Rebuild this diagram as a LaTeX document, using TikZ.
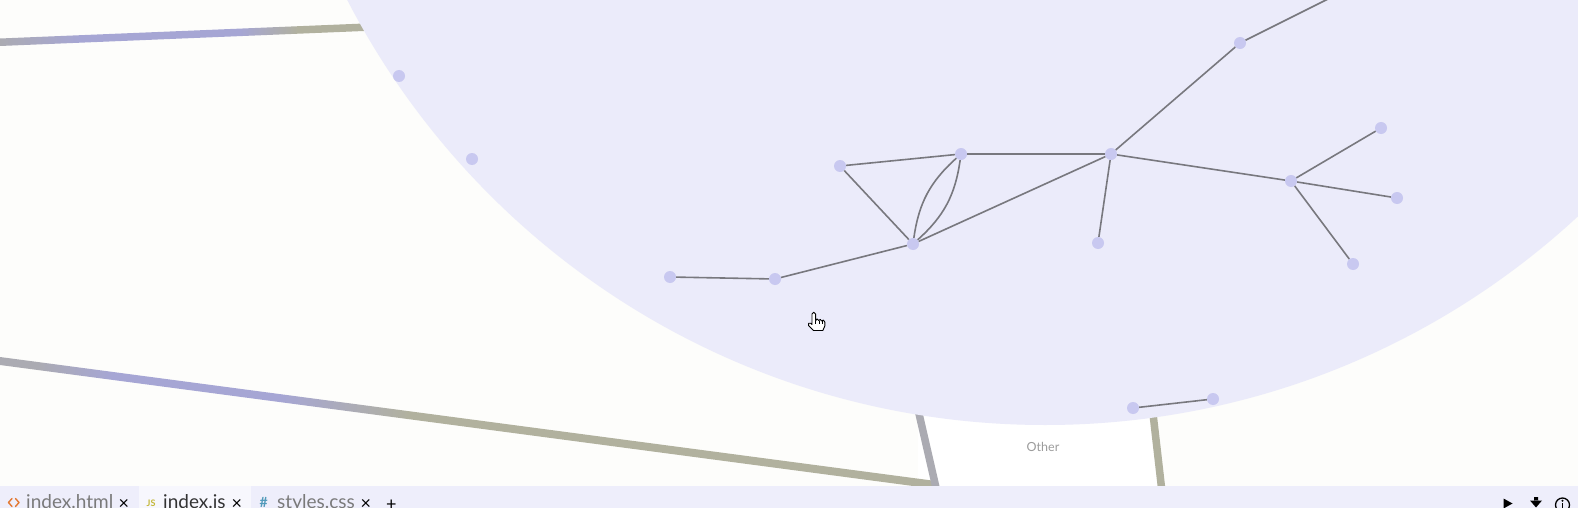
\documentclass[tikz,border=0pt]{standalone}
\usepackage{fontspec}
\setmainfont{Lato}
\definecolor{bg}{HTML}{FDFDFB}
\definecolor{circfill}{HTML}{EBEBFA}
\definecolor{nodefill}{HTML}{C8C8F0}
\definecolor{edgecol}{HTML}{78787E}
\definecolor{tabbg}{HTML}{EEEEFB}
\definecolor{tabact}{HTML}{F7F7FD}
\definecolor{lgA}{HTML}{ABABB2}
\definecolor{lgB}{HTML}{A6A6D4}
\definecolor{lgC}{HTML}{B1B19E}
\definecolor{txtgrey}{HTML}{7A7A7A}
\definecolor{txtdark}{HTML}{333333}
\definecolor{htmlorange}{HTML}{E37933}
\definecolor{jsolive}{HTML}{C4B83A}
\definecolor{cssblue}{HTML}{519ABA}
\definecolor{othergrey}{HTML}{9C9C9C}
\pgfdeclarehorizontalshading{upline}{100bp}{color(0bp)=(lgA); color(25bp)=(lgA); color(36bp)=(lgB); color(58bp)=(lgB); color(66bp)=(lgC); color(100bp)=(lgC)}
\pgfdeclarehorizontalshading{lowline}{100bp}{color(0bp)=(lgA); color(27bp)=(lgA); color(31bp)=(lgB); color(40bp)=(lgB); color(47bp)=(lgC); color(100bp)=(lgC)}
\tikzset{
  gnode/.style={circle, fill=nodefill, draw=none, inner sep=0pt, minimum size=12pt},
  gedge/.style={draw=edgecol, line width=1.6pt},
  vline/.style={draw=lgA, line width=7.5pt},
  vlinetwo/.style={draw=lgC, line width=7.5pt},
  tabtxt/.style={anchor=base west, inner sep=0pt, font=\fontsize{19}{19}\selectfont},
  closex/.style={anchor=base west, inner sep=0pt, font=\fontsize{18}{18}\selectfont, text=black},
  iconline/.style={line width=1.4pt, line cap=round, line join=round},
  cursorstyle/.style={fill=white, draw=black, line width=0.9pt, line join=round}
}
\begin{document}
\begin{tikzpicture}[x=1pt,y=-1pt]
\useasboundingbox (0,0) rectangle (1578,508);
\clip (0,0) rectangle (1578,508);
\fill[bg] (0,0) rectangle (1578,508);
\fill[white] (918,410) rectangle (1158,490);
% background thick lines
\shade[shading=upline] (0,38.5) -- (364,23.5) -- (364,31) -- (0,46) -- cycle;
\shade[shading=lowline] (0,357) -- (932,480.5) -- (932,488.5) -- (0,365) -- cycle;
\draw[vline] (917,405) -- (937,492);
\draw[vlinetwo] (1152,405) -- (1162,492);
% big circle
\fill[circfill] (1045,-360) circle (785pt);
% graph nodes
\node[gnode] (a) at (399,76) {};
\node[gnode] (b) at (472,159) {};
\node[gnode] (c) at (670,277) {};
\node[gnode] (d) at (775,279) {};
\node[gnode] (e) at (913,244) {};
\node[gnode] (f) at (840,166) {};
\node[gnode] (g) at (961,154) {};
\node[gnode] (h) at (1111,154) {};
\node[gnode] (i) at (1098,243) {};
\node[gnode] (j) at (1240,43) {};
\node[gnode] (k) at (1291,181) {};
\node[gnode] (l) at (1381,128) {};
\node[gnode] (m) at (1397,198) {};
\node[gnode] (n) at (1353,264) {};
\node[gnode] (o) at (1133,408) {};
\node[gnode] (p) at (1213,399) {};
\coordinate (jout) at (1332,-3);
% edges
\draw[gedge] (c) -- (d);
\draw[gedge] (d) -- (e);
\draw[gedge] (e) -- (f);
\draw[gedge] (f) -- (g);
\draw[gedge] (e) to[bend left=20] (g);
\draw[gedge] (e) to[bend right=20] (g);
\draw[gedge] (e) -- (h);
\draw[gedge] (g) -- (h);
\draw[gedge] (h) -- (i);
\draw[gedge] (h) -- (j);
\draw[gedge] (j) -- (jout);
\draw[gedge] (h) -- (k);
\draw[gedge] (k) -- (l);
\draw[gedge] (k) -- (m);
\draw[gedge] (k) -- (n);
\draw[gedge] (o) -- (p);
% label below circle
\node[inner sep=0pt, text=othergrey, font=\fontsize{12.5}{12.5}\selectfont] (other) at (1043,447) {Other};
% hand cursor
\draw[cursorstyle] (812,324.5) -- (812,314) .. controls (812,311.6) and (815.6,311.6) .. (815.6,314) -- (815.6,320.5)
  .. controls (815.6,318.4) and (818.8,318.4) .. (818.8,320.5)
  .. controls (818.8,319) and (821.8,319) .. (821.8,321)
  .. controls (821.8,319.6) and (824.8,319.6) .. (824.8,322) -- (824.8,326) -- (822.8,330.5) -- (813.5,330.5) -- (808.5,325.5)
  .. controls (807.3,323.8) and (809.5,322) .. (810.6,323.2) -- (812,324.5) -- cycle;
\draw[black, line width=0.6pt] (815.6,320.5) -- (815.6,324) (818.8,320.5) -- (818.8,324) (821.8,321) -- (821.8,324);
% tab bar
\fill[tabbg] (0,486) rectangle (1578,508);
\fill[tabact] (139,486) rectangle (251,508);
\draw[iconline, htmlorange] (12,498.5) -- (8.5,502.5) -- (12,506.5) (15.5,498.5) -- (19,502.5) -- (15.5,506.5);
\node[tabtxt, text=txtgrey] (t1) at (26,508) {index.html};
\node[closex] (x1) at (118.5,509) {×};
\node[anchor=base west, inner sep=0pt, text=jsolive, font=\fontsize{9}{9}\selectfont\bfseries] (js) at (146.5,506) {JS};
\node[tabtxt, text=txtdark] (t2) at (163,508) {index.js};
\node[closex] (x2) at (231.5,509) {×};
\node[anchor=base west, inner sep=0pt, text=cssblue, font=\fontsize{14}{14}\selectfont\bfseries] (hash) at (259.5,507) {\#};
\node[tabtxt, text=txtgrey] (t3) at (277,508) {styles.css};
\node[closex] (x3) at (360.5,509) {×};
\node[anchor=base west, inner sep=0pt, text=black, font=\fontsize{18}{18}\selectfont] (plus) at (386,510) {+};
% right icons
\fill[black] (1503.5,498.5) -- (1512.5,503.5) -- (1503.5,508.5) -- cycle;
\fill[black] (1534,497) rectangle (1538,501) (1530,500.5) -- (1542,500.5) -- (1536,507.5) -- cycle;
\draw[black, line width=1.3pt] (1562.5,505) circle (7pt);
\fill[black] (1562.5,500.8) circle (1.1pt);
\draw[black, line width=1.6pt] (1562.5,503.3) -- (1562.5,509);
\end{tikzpicture}
\end{document}
